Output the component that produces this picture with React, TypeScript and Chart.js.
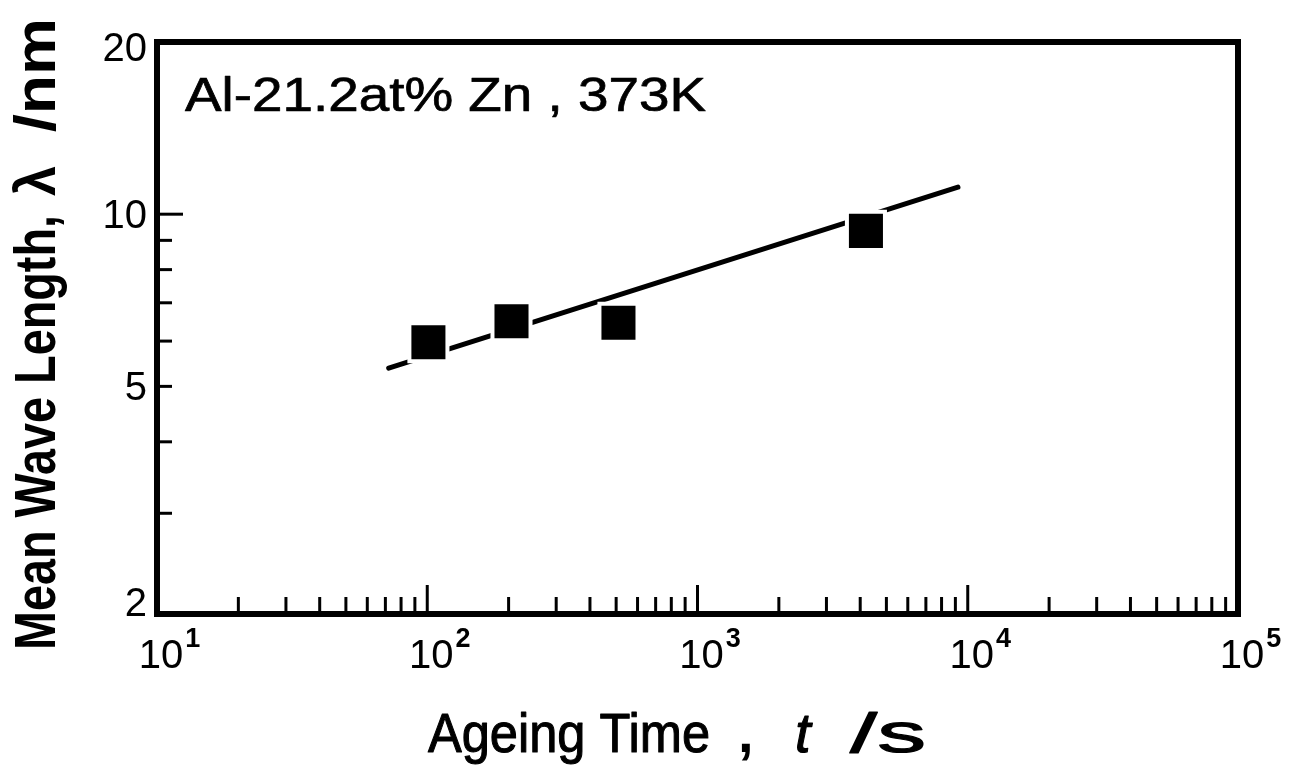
import React, { useEffect, useRef } from "react";
import { Chart, registerables } from "chart.js";

Chart.register(...registerables);

// ---- data ----
const ageingTimes = [101, 205, 510, 4200];
const waveLengths = [5.97, 6.5, 6.46, 9.35];

const fitLineTimes = [72, 9200];
const fitLineLengths = [5.38, 11.15];

// ---- axes ----
const xMin = 10;
const xMax = 100000;
const yMin = 2;
const yMax = 20;

const xMajorTicks = [100, 1000, 10000];
const xMinorTicks = [
  20, 30, 40, 50, 60, 70, 80, 90,
  200, 300, 400, 500, 600, 700, 800, 900,
  2000, 3000, 4000, 5000, 6000, 7000, 8000, 9000,
  20000, 30000, 40000, 50000, 60000, 70000, 80000, 90000,
];
const yMajorTicks = [10];
const yMinorTicks = [3, 4, 5, 6, 7, 8, 9];

const xTickLabelValues = [10, 100, 1000, 10000, 100000];
const xTickLabelExponents = ["1", "2", "3", "4", "5"];
const yTickLabelValues = [2, 5, 10, 20];
const yTickLabels = ["2", "5", "10", "20"];

const annotationText = "Al-21.2at% Zn , 373K";
const xTitleMain = "Ageing Time";
const xTitleComma = ",";
const xTitleSymbol = "t";
const xTitleUnit = "/s";
const yTitleMain = "Mean Wave Length,";
const yTitleSymbol = "λ";
const yTitleUnit = "/nm";

const FONT = '"Liberation Sans", Arial, sans-serif';

function fitText(
  ctx: CanvasRenderingContext2D,
  text: string,
  x: number,
  y: number,
  width: number | null,
  font: string,
  embolden = 0
) {
  ctx.font = font;
  const w = ctx.measureText(text).width;
  ctx.save();
  ctx.translate(x, y);
  if (width) ctx.scale(width / w, 1);
  ctx.textAlign = "left";
  ctx.textBaseline = "alphabetic";
  ctx.fillText(text, 0, 0);
  if (embolden > 0) {
    ctx.lineWidth = embolden;
    ctx.lineJoin = "round";
    ctx.strokeText(text, 0, 0);
  }
  ctx.restore();
}

const framePlugin = {
  id: "frameAndLabels",
  afterDraw(chart: any) {
    const { ctx, chartArea: a, scales } = chart;
    const xs = scales.x;
    const ys = scales.y;
    ctx.save();
    ctx.strokeStyle = "#000";
    ctx.fillStyle = "#000";

    // inward ticks
    ctx.lineWidth = 3;
    ctx.lineCap = "butt";
    const vTick = (v: number, len: number) => {
      const px = xs.getPixelForValue(v);
      ctx.beginPath();
      ctx.moveTo(px, a.bottom);
      ctx.lineTo(px, a.bottom - len);
      ctx.stroke();
    };
    const hTick = (v: number, len: number) => {
      const py = ys.getPixelForValue(v);
      ctx.beginPath();
      ctx.moveTo(a.left, py);
      ctx.lineTo(a.left + len, py);
      ctx.stroke();
    };
    xMinorTicks.forEach((v) => vTick(v, 17));
    xMajorTicks.forEach((v) => vTick(v, 29));
    yMinorTicks.forEach((v) => hTick(v, 15));
    yMajorTicks.forEach((v) => hTick(v, 26));

    // frame
    ctx.lineWidth = 6;
    ctx.lineJoin = "miter";
    ctx.strokeRect(a.left, a.top, a.right - a.left, a.bottom - a.top);

    // y tick labels
    ctx.font = `40px ${FONT}`;
    ctx.textAlign = "right";
    ctx.textBaseline = "alphabetic";
    yTickLabelValues.forEach((v, i) => {
      let py = ys.getPixelForValue(v);
      py = Math.min(Math.max(py, a.top + 5), a.bottom - 12);
      ctx.fillText(yTickLabels[i], a.left - 10, py + 14);
    });

    // x tick labels (10 with superscript exponent)
    xTickLabelValues.forEach((v, i) => {
      const px = xs.getPixelForValue(v);
      ctx.font = `40px ${FONT}`;
      ctx.textAlign = "center";
      const baseW = ctx.measureText("10").width;
      const cx = px + 4;
      ctx.fillText("10", cx, 668);
      ctx.font = `bold 27px ${FONT}`;
      ctx.textAlign = "left";
      ctx.fillText(xTickLabelExponents[i], cx + baseW / 2 + 2, 647);
    });

    // annotation
    fitText(ctx, annotationText, 185, 111, 521, `48px ${FONT}`, 0.7);

    // x title
    fitText(ctx, xTitleMain, 428, 752, 282, `56px ${FONT}`, 1.1);
    fitText(ctx, xTitleComma, 738, 752, null, `bold 56px ${FONT}`);
    fitText(ctx, xTitleSymbol, 795, 752, null, `italic 56px ${FONT}`, 1.1);
    fitText(ctx, xTitleUnit, 850, 752, 76, `56px ${FONT}`, 1.1);

    // y title (rotated)
    ctx.save();
    ctx.translate(55, 0);
    ctx.rotate(-Math.PI / 2);
    // rotated frame: x = -pageY
    fitText(ctx, yTitleMain, -650, 0, 435, `bold 58px ${FONT}`);
    fitText(ctx, yTitleSymbol, -196, 0, 30, `bold 58px ${FONT}`);
    fitText(ctx, yTitleUnit, -132, 0, 114, `bold 58px ${FONT}`);
    ctx.restore();

    ctx.restore();
  },
};

export default function App() {
  const canvasRef = useRef<HTMLCanvasElement | null>(null);

  useEffect(() => {
    if (!canvasRef.current) return;
    const points = ageingTimes.map((t, i) => ({ x: t, y: waveLengths[i] }));
    const fit = fitLineTimes.map((t, i) => ({ x: t, y: fitLineLengths[i] }));
    const chart = new Chart(canvasRef.current, {
      type: "scatter",
      data: {
        datasets: [
          {
            label: "measured",
            data: points,
            pointStyle: "rect",
            pointRadius: 26.9,
            pointHoverRadius: 26.9,
            backgroundColor: "#000",
            borderColor: "#fff",
            borderWidth: 4,
            pointBorderWidth: 4,
            showLine: false,
          },
          {
            label: "fit",
            data: fit,
            showLine: true,
            borderColor: "#000",
            borderWidth: 5,
            borderCapStyle: "round",
            pointRadius: 0,
            pointHoverRadius: 0,
          },
        ],
      },
      options: {
        animation: false,
        responsive: true,
        maintainAspectRatio: false,
        events: [],
        layout: { padding: { left: 157, right: 62, top: 42, bottom: 153 } },
        plugins: { legend: { display: false }, tooltip: { enabled: false } },
        scales: {
          x: { type: "logarithmic", min: xMin, max: xMax, display: false },
          y: { type: "logarithmic", min: yMin, max: yMax, display: false },
        },
      },
      plugins: [framePlugin],
    } as any);
    return () => chart.destroy();
  }, []);

  return (
    <div style={{ position: "fixed", left: 0, top: 0, width: 1300, height: 767, background: "#fff" }}>
      <canvas ref={canvasRef} />
    </div>
  );
}
